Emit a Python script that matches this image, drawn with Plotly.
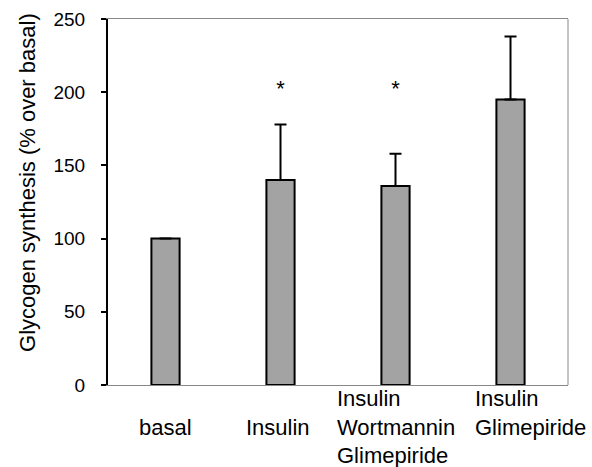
import plotly.graph_objects as go

categories = ["basal", "Insulin", "Insulin Wortmannin Glimepiride", "Insulin Glimepiride"]
tick_labels = ["basal", "Insulin", "Insulin<br>Wortmannin<br>Glimepiride", "Insulin<br>Glimepiride"]
values = [100, 140, 136, 195]
errors_up = [0, 38, 22, 43]
star_labels = ["", "*", "*", ""]
star_y = [201, 201, 201, 201]
y_ticks = [0, 50, 100, 150, 200, 250]

FONT = "Liberation Sans, Arial, sans-serif"
label_yshift = [-28, -28, 1, 1]
label_xshift = [0, -3, 0, 20]

fig = go.Figure()
fig.add_trace(go.Bar(
    x=categories, y=values, width=0.245,
    marker=dict(color="#a3a3a3", line=dict(color="black", width=2)),
    error_y=dict(type="data", array=errors_up, arrayminus=[0] * len(values),
                 symmetric=False, color="black", thickness=2, width=6),
    showlegend=False,
))
fig.add_trace(go.Scatter(
    x=categories, y=star_y, mode="text", text=star_labels,
    textfont=dict(family=FONT, size=22, color="black"),
    textposition="middle center", showlegend=False, hoverinfo="skip",
))

for cat, lab, ys, xs in zip(categories, tick_labels, label_yshift, label_xshift):
    fig.add_annotation(
        x=cat, y=0, xref="x", yref="y", text=lab, showarrow=False,
        xanchor="center", yanchor="top", align="left",
        xshift=xs, yshift=ys,
        font=dict(family=FONT, size=22, color="black"),
    )

fig.add_annotation(
    x=0, y=0.552, xref="paper", yref="paper", xshift=-80,
    text="Glycogen synthesis (% over basal)", textangle=-90, showarrow=False,
    xanchor="center", yanchor="middle",
    font=dict(family=FONT, size=22, color="black"),
)

fig.update_layout(
    width=592, height=467,
    margin=dict(l=108, r=24, t=19, b=82),
    plot_bgcolor="white", paper_bgcolor="white",
    font=dict(family=FONT, color="black"),
    bargap=0.75,
)
fig.update_xaxes(
    type="category", showticklabels=False, range=[-0.5, 3.5],
    showline=True, linecolor="#888888", linewidth=1, mirror=True,
    ticks="", showgrid=False, zeroline=False, automargin=False,
)
fig.update_yaxes(
    range=[0, 250], tickvals=y_ticks, ticktext=[str(v) for v in y_ticks],
    tickfont=dict(size=19, family=FONT, color="black"),
    ticks="outside", ticklen=5, tickwidth=2, tickcolor="black",
    showline=True, linecolor="black", linewidth=2,
    showgrid=False, zeroline=False, automargin=False,
    ticklabelstandoff=12,
)
fig.add_shape(type="line", xref="paper", yref="paper", x0=1, x1=1, y0=0, y1=1,
              line=dict(color="#888888", width=1))
fig.write_html("out.html", config={"displayModeBar": False},
               post_script="document.body.style.margin='0';document.body.style.padding='0';")
